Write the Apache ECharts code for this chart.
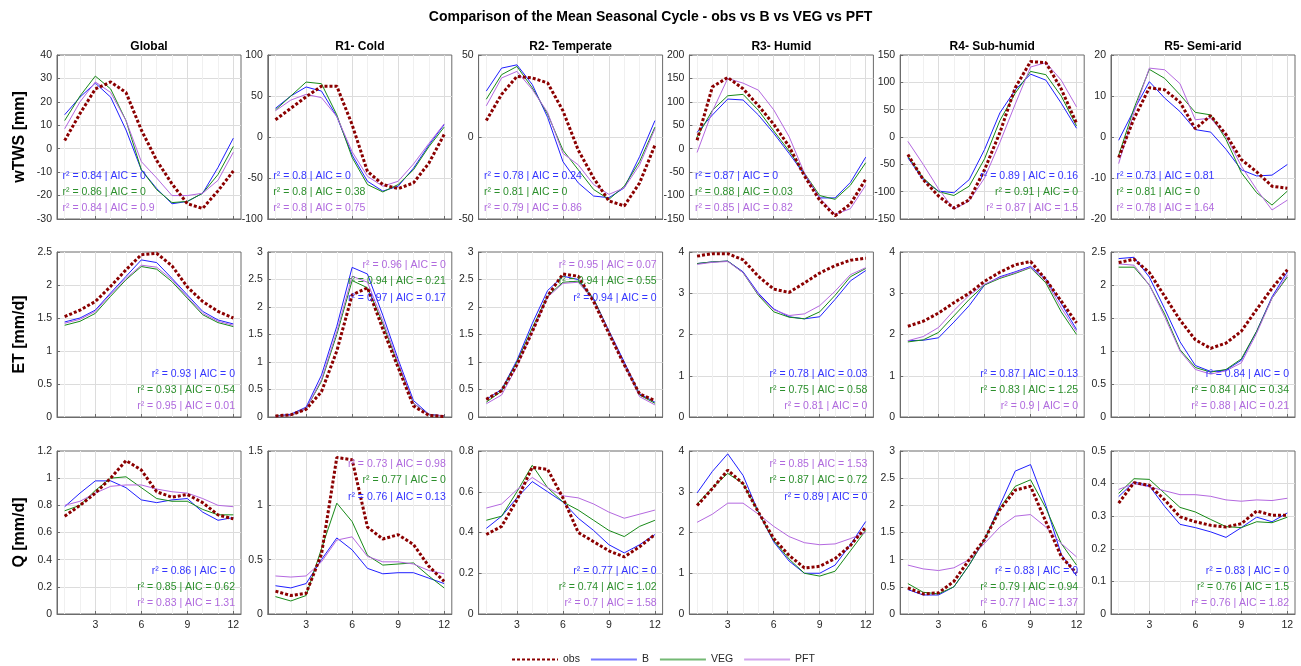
<!DOCTYPE html>
<html>
<head>
<meta charset="utf-8">
<title>Mean Seasonal Cycle</title>
<script src="https://cdn.jsdelivr.net/npm/echarts@6/dist/echarts.min.js"></script>
<style>
  html, body { margin: 0; padding: 0; background: #fff; }
  #root { width: 1301px; height: 666px; }
</style>
</head>
<body>
<div id="root"></div>
<script>
// ---- data ----
var months = [1, 2, 3, 4, 5, 6, 7, 8, 9, 10, 11, 12]
var regions = ['Global', 'R1- Cold', 'R2- Temperate', 'R3- Humid', 'R4- Sub-humid', 'R5- Semi-arid']
var rowNames = ['wTWS [mm]', 'ET [mm/d]', 'Q [mm/d]']

// wTWS [mm], one array per region
var twsObs = [
  [3.5, 15, 25.5, 28.5, 24, 8, -5, -15, -23.5, -25.5, -18, -9.5],
  [21, 35, 49, 62, 62, 15, -42, -58, -63, -56, -32, 3],
  [10, 26, 37, 36, 33, 16, -8, -25, -39, -42, -28, -5],
  [18, 132, 152, 128, 92, 52, 5, -58, -110, -143, -118, -65],
  [-32, -78, -108, -130, -115, -60, 8, 90, 138, 136, 88, 25],
  [-5, 4.5, 12, 11.5, 8.5, 2, 5.2, 0.6, -5.5, -8.5, -12, -12.5]
]
var twsB = [
  [14.5, 22, 28, 22, 8, -9, -17, -23.5, -22.5, -19, -8, 4.5],
  [35, 50, 61, 56, 25, -22, -54, -66, -60, -38, -10, 15],
  [28, 42, 44, 32, 12, -15, -28, -36, -37, -31, -12, 10],
  [35, 72, 106, 104, 72, 33, -10, -55, -105, -105, -72, -18],
  [-38, -78, -99, -102, -78, -23, 44, 86, 115, 104, 62, 16],
  [-0.8, 6.6, 13.5, 9.5, 6.2, 1.8, 1.2, -3, -8, -9.5, -9.3, -6.7]
]
var twsVEG = [
  [12, 22.5, 31, 25.5, 12, -9, -17.5, -23, -22.5, -19, -11, 1],
  [33, 50, 67, 65, 27, -25, -58, -67, -58, -40, -12, 12],
  [23, 38, 43, 30, 14, -8, -20, -32, -38, -30, -15, 6],
  [25, 82, 113, 116, 82, 38, -5, -52, -100, -108, -78, -30],
  [-35, -75, -100, -107, -90, -40, 30, 80, 120, 114, 75, 20],
  [-4.5, 7, 16.5, 14.3, 10.3, 6, 5.4, -0.6, -8.7, -13.6, -16.6, -13.2]
]
var twsPFT = [
  [8.5, 20, 28.5, 24, 12, -5.5, -12.5, -20, -20, -19, -13.5, -1.5],
  [32, 45, 52, 48, 25, -18, -48, -60, -54, -33, -8, 16],
  [19, 36, 40, 29, 15, -10, -17, -29, -35, -31, -17, 5],
  [-8, 80, 150, 140, 125, 83, 26, -52, -105, -140, -128, -78],
  [-8, -50, -95, -132, -117, -75, -10, 60, 128, 136, 104, 55],
  [-6.5, 6, 16.8, 16.4, 13, 4.2, 4.6, 0.2, -7.1, -12.8, -17.8, -15.4]
]

// ET [mm/d]
var etObs = [
  [1.52, 1.62, 1.75, 1.98, 2.23, 2.46, 2.48, 2.29, 1.97, 1.75, 1.6, 1.5],
  [0.02, 0.04, 0.14, 0.46, 1.2, 2.22, 2.35, 1.6, 0.9, 0.2, 0.03, 0.01],
  [0.32, 0.48, 0.95, 1.55, 2.2, 2.6, 2.56, 2.1, 1.52, 0.95, 0.42, 0.3],
  [3.9, 3.96, 3.96, 3.81, 3.41, 3.1, 3.02, 3.25, 3.49, 3.67, 3.8, 3.85],
  [2.2, 2.32, 2.52, 2.77, 3.0, 3.29, 3.51, 3.69, 3.77, 3.33, 2.81, 2.28],
  [2.34, 2.39, 2.19, 1.83, 1.47, 1.17, 1.04, 1.12, 1.3, 1.63, 1.95, 2.23]
]
var etB = [
  [1.44, 1.5, 1.62, 1.88, 2.13, 2.38, 2.34, 2.1, 1.85, 1.6, 1.47, 1.41],
  [0.02, 0.05, 0.18, 0.76, 1.65, 2.72, 2.6, 1.85, 1.05, 0.3, 0.05, 0.02],
  [0.32, 0.5, 1.03, 1.7, 2.3, 2.56, 2.5, 2.15, 1.57, 1.0, 0.42, 0.27],
  [3.72, 3.76, 3.78, 3.52, 3.0, 2.62, 2.43, 2.38, 2.43, 2.85, 3.3, 3.55],
  [1.85, 1.86, 1.92, 2.3, 2.7, 3.2, 3.4, 3.52, 3.65, 3.35, 2.75, 2.12],
  [2.4, 2.42, 2.12, 1.64, 1.14, 0.78, 0.69, 0.71, 0.86, 1.3, 1.82, 2.2]
]
var etVEG = [
  [1.39, 1.45, 1.57, 1.83, 2.08, 2.28, 2.24, 2.05, 1.8, 1.55, 1.43, 1.37],
  [0.02, 0.03, 0.15, 0.65, 1.5, 2.48, 2.35, 1.7, 0.95, 0.25, 0.04, 0.02],
  [0.27, 0.47, 1.0, 1.62, 2.2, 2.45, 2.47, 2.15, 1.55, 0.95, 0.4, 0.25],
  [3.72, 3.76, 3.78, 3.5, 2.95, 2.55, 2.42, 2.38, 2.55, 2.95, 3.4, 3.6],
  [1.82, 1.87, 2.05, 2.45, 2.85, 3.2, 3.36, 3.48, 3.62, 3.25, 2.55, 2.0],
  [2.27, 2.27, 2.0, 1.56, 1.02, 0.75, 0.68, 0.72, 0.88, 1.3, 1.8, 2.12]
]
var etPFT = [
  [1.42, 1.48, 1.6, 1.86, 2.1, 2.3, 2.27, 2.08, 1.82, 1.57, 1.45, 1.39],
  [0.01, 0.03, 0.15, 0.68, 1.55, 2.56, 2.45, 1.75, 1.0, 0.25, 0.04, 0.02],
  [0.24, 0.4, 0.92, 1.55, 2.18, 2.43, 2.45, 2.12, 1.55, 0.95, 0.37, 0.22],
  [3.7, 3.75, 3.77, 3.5, 2.97, 2.6, 2.46, 2.5, 2.7, 3.05, 3.45, 3.62],
  [1.85, 1.95, 2.17, 2.58, 2.95, 3.22, 3.38, 3.5, 3.63, 3.3, 2.65, 2.07],
  [2.32, 2.3, 2.0, 1.52, 1.0, 0.72, 0.65, 0.7, 0.82, 1.27, 1.8, 2.15]
]

// Q [mm/d]
var qObs = [
  [0.72, 0.8, 0.89, 1.0, 1.13, 1.06, 0.9, 0.86, 0.88, 0.82, 0.73, 0.7],
  [0.21, 0.17, 0.19, 0.55, 1.44, 1.42, 0.8, 0.69, 0.73, 0.64, 0.44, 0.3],
  [0.39, 0.43, 0.56, 0.72, 0.71, 0.57, 0.4, 0.355, 0.31, 0.28, 0.33, 0.39],
  [2.66, 3.08, 3.53, 3.2, 2.5, 1.85, 1.44, 1.13, 1.17, 1.36, 1.68, 2.13],
  [0.48, 0.37, 0.39, 0.6, 1.0, 1.37, 1.92, 2.28, 2.35, 1.7, 1.06, 0.75],
  [0.34, 0.403, 0.395, 0.35, 0.298, 0.283, 0.272, 0.267, 0.277, 0.316, 0.303, 0.303]
]
var qB = [
  [0.79, 0.89, 0.98, 0.98, 0.93, 0.84, 0.82, 0.84, 0.85, 0.75, 0.69, 0.71],
  [0.26, 0.24, 0.28, 0.5, 0.7, 0.59, 0.42, 0.37, 0.38, 0.38, 0.33, 0.28],
  [0.42, 0.48, 0.57, 0.65, 0.6, 0.55, 0.47, 0.41, 0.34, 0.3, 0.34, 0.39],
  [2.97, 3.5, 3.93, 3.4, 2.5, 1.77, 1.3, 1.0, 1.0, 1.2, 1.7, 2.27],
  [0.45, 0.35, 0.35, 0.5, 0.9, 1.37, 2.0, 2.63, 2.75, 2.0, 1.1, 0.7],
  [0.36, 0.405, 0.393, 0.33, 0.275, 0.265, 0.252, 0.235, 0.265, 0.297, 0.283, 0.31]
]
var qVEG = [
  [0.76, 0.8, 0.91, 1.0, 1.01, 0.93, 0.85, 0.83, 0.83, 0.77, 0.73, 0.73],
  [0.16, 0.12, 0.17, 0.6, 1.02, 0.85, 0.54, 0.45, 0.46, 0.47, 0.35, 0.24],
  [0.46, 0.48, 0.6, 0.73, 0.62, 0.55, 0.51, 0.46, 0.41, 0.38, 0.43, 0.46],
  [2.7, 3.1, 3.45, 3.2, 2.5, 1.8, 1.35, 1.0, 0.93, 1.05, 1.55, 2.05],
  [0.56, 0.4, 0.37, 0.5, 0.9, 1.37, 1.95, 2.35, 2.47, 1.95, 1.3, 0.9],
  [0.37, 0.415, 0.413, 0.37, 0.327, 0.313, 0.29, 0.268, 0.265, 0.283, 0.28, 0.297]
]
var qPFT = [
  [0.8, 0.83, 0.89, 0.94, 0.95, 0.95, 0.92, 0.9, 0.89, 0.85, 0.8, 0.79],
  [0.35, 0.34, 0.35, 0.48, 0.68, 0.71, 0.53, 0.48, 0.48, 0.46, 0.4, 0.37],
  [0.52, 0.54, 0.61, 0.67, 0.62, 0.58, 0.57, 0.54, 0.5, 0.47, 0.49, 0.51],
  [2.25, 2.45, 2.72, 2.72, 2.45, 2.15, 1.9, 1.75, 1.7, 1.72, 1.85, 2.0],
  [0.9, 0.83, 0.8, 0.85, 1.0, 1.3, 1.6, 1.8, 1.83, 1.6, 1.3, 1.05],
  [0.382, 0.4, 0.39, 0.378, 0.366, 0.366, 0.361, 0.35, 0.346, 0.35, 0.348, 0.355]
]

// y axis ranges per region
var twsMin = [-30, -100, -50, -150, -150, -20]
var twsMax = [40, 100, 50, 200, 150, 20]
var twsStep = [10, 50, 50, 50, 50, 10]
var etMin = [0, 0, 0, 0, 0, 0]
var etMax = [2.5, 3, 3, 4, 4, 2.5]
var etStep = [0.5, 0.5, 0.5, 1, 1, 0.5]
var qMin = [0, 0, 0, 0, 0, 0]
var qMax = [1.2, 1.5, 0.8, 4, 3, 0.5]
var qStep = [0.2, 0.5, 0.2, 1, 0.5, 0.1]
var xTicks = [3, 6, 9, 12]

// fit statistics per region: [B, VEG, PFT] -> [r2, AIC]
var twsFit = [
  [[0.84, 0], [0.86, 0], [0.84, 0.9]],
  [[0.8, 0], [0.8, 0.38], [0.8, 0.75]],
  [[0.78, 0.24], [0.81, 0], [0.79, 0.86]],
  [[0.87, 0], [0.88, 0.03], [0.85, 0.82]],
  [[0.89, 0.16], [0.91, 0], [0.87, 1.5]],
  [[0.73, 0.81], [0.81, 0], [0.78, 1.64]]
]
var etFit = [
  [[0.93, 0], [0.93, 0.54], [0.95, 0.01]],
  [[0.97, 0.17], [0.94, 0.21], [0.96, 0]],
  [[0.94, 0], [0.94, 0.55], [0.95, 0.07]],
  [[0.78, 0.03], [0.75, 0.58], [0.81, 0]],
  [[0.87, 0.13], [0.83, 1.25], [0.9, 0]],
  [[0.84, 0], [0.84, 0.34], [0.88, 0.21]]
]
var qFit = [
  [[0.86, 0], [0.85, 0.62], [0.83, 1.31]],
  [[0.76, 0.13], [0.77, 0], [0.73, 0.98]],
  [[0.77, 0], [0.74, 1.02], [0.7, 1.58]],
  [[0.89, 0], [0.87, 0.72], [0.85, 1.53]],
  [[0.83, 0], [0.79, 0.94], [0.77, 1.37]],
  [[0.83, 0], [0.76, 1.5], [0.76, 1.82]]
]

// ---- layout ----
var FONT = '"Liberation Sans", Arial, Helvetica, sans-serif'
var LEFT0 = 57, STEP = 210.8, W = 184
var TOPS = [55, 252, 451]
var HS = [164, 165, 163]
var AXIS = '#6b6b6b'
var models = [
  { name: 'B', line: '#1f1fff', text: '#3535ff' },
  { name: 'VEG', line: '#178a17', text: '#2c8f2c' },
  { name: 'PFT', line: '#b468e0', text: '#b06ade' }
]
var rows = [
  { obs: twsObs, B: twsB, VEG: twsVEG, PFT: twsPFT, min: twsMin, max: twsMax, step: twsStep, fit: twsFit,
    place: ['bl', 'bl', 'bl', 'bl', 'br', 'bl'] },
  { obs: etObs, B: etB, VEG: etVEG, PFT: etPFT, min: etMin, max: etMax, step: etStep, fit: etFit,
    place: ['br', 'tr', 'tr', 'br', 'br', 'br'] },
  { obs: qObs, B: qB, VEG: qVEG, PFT: qPFT, min: qMin, max: qMax, step: qStep, fit: qFit,
    place: ['br', 'tr', 'br', 'tr', 'br', 'br'] }
]

function txt (x, y, text, color, font, align, rot) {
  return {
    type: 'text', x: x, y: y, rotation: rot || 0, silent: true, z: 100,
    style: { text: text, fill: color, font: font, textAlign: align, align: align,
      textVerticalAlign: 'middle', verticalAlign: 'middle' }
  }
}

function pairs (vals) {
  return months.map(function (m, i) { return [m, vals[i]] })
}

var grids = [], xAxes = [], yAxes = [], series = [], graphics = []

graphics.push(txt(650.5, 17, 'Comparison of the Mean Seasonal Cycle - obs vs B vs VEG vs PFT', '#000', 'bold 14px ' + FONT, 'center'))

for (var r = 0; r < 3; r++) {
  var row = rows[r]
  graphics.push(txt(20, TOPS[r] + HS[r] / 2, rowNames[r], '#000', 'bold 16px ' + FONT, 'center', Math.PI / 2))
  for (var c = 0; c < 6; c++) {
    var k = r * 6 + c
    var gl = LEFT0 + c * STEP, gr = gl + W, gt = TOPS[r], gb = gt + HS[r]
    grids.push({ left: gl, top: gt, width: W, height: HS[r], show: true, borderColor: AXIS, borderWidth: 1, backgroundColor: '#fff' })

    // major x axis (ticks and labels at 3, 6, 9, 12)
    xAxes.push({
      gridIndex: k, type: 'value', min: 0.5, max: 12.5, position: 'bottom',
      axisLine: { show: true, onZero: false, lineStyle: { color: AXIS } },
      axisTick: { show: true, inside: true, length: 3, customValues: xTicks, lineStyle: { color: AXIS } },
      axisLabel: { show: r === 2, customValues: xTicks, color: '#262626', fontSize: 10.5, fontFamily: FONT, margin: 6 },
      splitLine: { show: true, lineStyle: { color: '#dcdcdc', width: 1 } }
    })
    // minor x grid (every month)
    xAxes.push({
      gridIndex: k, type: 'value', min: 0.5, max: 12.5, position: 'top',
      axisLine: { show: false, onZero: false },
      axisTick: { show: false, customValues: [1, 2, 4, 5, 7, 8, 10, 11] },
      axisLabel: { show: false },
      splitLine: { show: true, lineStyle: { color: '#f0f0f0', width: 1 } }
    })
    yAxes.push({
      gridIndex: k, type: 'value', min: row.min[c], max: row.max[c], interval: row.step[c],
      axisLine: { show: true, onZero: false, lineStyle: { color: AXIS } },
      axisTick: { show: true, inside: true, length: 3, lineStyle: { color: AXIS } },
      axisLabel: { color: '#262626', fontSize: 10.5, fontFamily: FONT, margin: 5 },
      splitLine: { show: true, showMinLine: false, showMaxLine: false, lineStyle: { color: '#dcdcdc', width: 1 } }
    })

    models.forEach(function (m) {
      series.push({
        type: 'line', name: m.name, xAxisIndex: 2 * k, yAxisIndex: k,
        data: pairs(row[m.name][c]), symbol: 'none', silent: true, z: 3,
        lineStyle: { color: m.line, width: 1 }, itemStyle: { color: m.line }
      })
    })
    series.push({
      type: 'line', name: 'obs', xAxisIndex: 2 * k, yAxisIndex: k,
      data: pairs(row.obs[c]), symbol: 'none', silent: true, z: 4,
      lineStyle: { color: '#8b0000', width: 3, type: [3, 2] }, itemStyle: { color: '#8b0000' }
    })

    if (r === 0) {
      graphics.push(txt(gl + W / 2, 47, regions[c], '#000', 'bold 12px ' + FONT, 'center'))
    }

    // fit annotation
    var pl = row.place[c]
    var fit = row.fit[c]
    var ys, x, align
    if (pl === 'tr') {
      x = gr - 6; align = 'right'
      ys = [gt + 46, gt + 29.5, gt + 13.5]
    } else {
      x = pl === 'bl' ? gl + 5.5 : gr - 6
      align = pl === 'bl' ? 'left' : 'right'
      ys = [gb - 42.5, gb - 26.5, gb - 11]
    }
    for (var j = 0; j < 3; j++) {
      graphics.push(txt(x, ys[j], 'r\u00b2 = ' + fit[j][0] + ' | AIC = ' + fit[j][1], models[j].text, '10.5px ' + FONT, align))
    }
  }
}

var chart = echarts.init(document.getElementById('root'))
chart.setOption({
  animation: false,
  backgroundColor: '#fff',
  textStyle: { fontFamily: FONT },
  grid: grids,
  xAxis: xAxes,
  yAxis: yAxes,
  legend: {
    left: 506, top: 649, itemWidth: 46, itemHeight: 12, itemGap: 10,
    itemStyle: { opacity: 0 },
    textStyle: { color: '#262626', fontSize: 10.5, fontFamily: FONT },
    data: [
      { name: 'obs', itemStyle: { opacity: 0 } },
      { name: 'B', itemStyle: { opacity: 0 }, lineStyle: { opacity: 0.6 } },
      { name: 'VEG', itemStyle: { opacity: 0 }, lineStyle: { opacity: 0.6 } },
      { name: 'PFT', itemStyle: { opacity: 0 }, lineStyle: { opacity: 0.6 } }
    ]
  },
  series: series,
  graphic: graphics
})
</script>
</body>
</html>
